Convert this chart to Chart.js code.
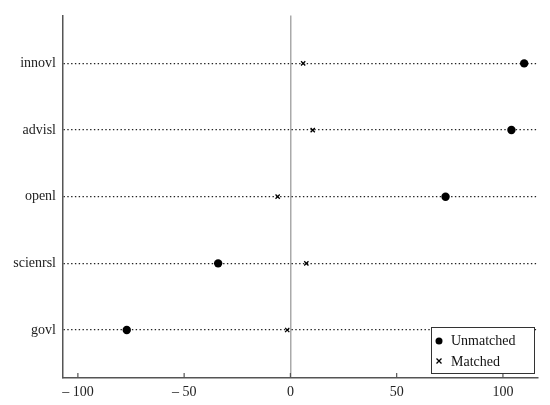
<!DOCTYPE html>
<html>
<head>
<meta charset="utf-8">
<script src="https://cdn.jsdelivr.net/npm/chart.js@4.4.0/dist/chart.umd.min.js"></script>
<style>
  html, body { margin: 0; padding: 0; background: #fff; }
  #wrap { width: 550px; height: 405px; position: relative; }
</style>
</head>
<body>
<div id="wrap"><canvas id="dotChart"></canvas></div>
<script>
// rows from bottom to top
const categories = ['govl', 'scienrsl', 'openl', 'advisl', 'innovl'];
const unmatched = [-77, -34, 73, 104, 110];
const matched = [-1.5, 7.5, -6, 10.5, 6];
const xTicks = [-100, -50, 0, 50, 100];

const serif = '"Liberation Serif", "DejaVu Serif", serif';

function fmtTick(v) {
    return v < 0 ? '\u2013 ' + Math.abs(v) : String(v);
}

// inward tick marks on x axis + legend box in the lower right
const extras = {
    id: 'extras',
    afterDraw(chart) {
        const ctx = chart.ctx;
        const x = chart.scales.x;
        const area = chart.chartArea;
        ctx.save();
        ctx.strokeStyle = '#555';
        ctx.lineWidth = 1.2;
        xTicks.forEach(function(t) {
            const px = x.getPixelForValue(t);
            ctx.beginPath();
            ctx.moveTo(px, area.bottom);
            ctx.lineTo(px, area.bottom - 5);
            ctx.stroke();
        });

        // legend
        const bx = 431, by = 327, bw = 103, bh = 46;
        ctx.fillStyle = '#fff';
        ctx.fillRect(bx, by, bw, bh);
        ctx.strokeStyle = '#333';
        ctx.lineWidth = 1;
        ctx.strokeRect(bx + 0.5, by + 0.5, bw, bh);

        ctx.fillStyle = '#000';
        ctx.beginPath();
        ctx.arc(bx + 8, by + 14, 3.5, 0, Math.PI * 2);
        ctx.fill();

        ctx.strokeStyle = '#000';
        ctx.lineWidth = 1.3;
        const cx = bx + 8, cy = by + 34;
        ctx.beginPath();
        ctx.moveTo(cx - 2.5, cy - 2.5); ctx.lineTo(cx + 2.5, cy + 2.5);
        ctx.moveTo(cx - 2.5, cy + 2.5); ctx.lineTo(cx + 2.5, cy - 2.5);
        ctx.stroke();

        ctx.font = '14px ' + serif;
        ctx.textBaseline = 'middle';
        ctx.fillStyle = '#111';
        ctx.fillText(chart.data.datasets[0].label, bx + 20, by + 14);
        ctx.fillText(chart.data.datasets[1].label, bx + 20, by + 35);
        ctx.restore();
    }
};

const ctx = document.getElementById('dotChart').getContext('2d');

new Chart(ctx, {
    type: 'scatter',
    data: {
        datasets: [{
            label: 'Unmatched',
            data: unmatched.map(function(v, i) { return { x: v, y: i + 1 }; }),
            pointStyle: 'circle',
            pointRadius: 4.2,
            backgroundColor: '#000',
            borderColor: '#000',
            borderWidth: 0
        }, {
            label: 'Matched',
            data: matched.map(function(v, i) { return { x: v, y: i + 1 }; }),
            pointStyle: 'crossRot',
            pointRadius: 3,
            borderColor: '#000',
            borderWidth: 1.3
        }]
    },
    options: {
        responsive: true,
        maintainAspectRatio: false,
        animation: false,
        layout: { padding: { top: 13, right: 12, left: 0, bottom: 0 } },
        plugins: {
            legend: { display: false },
            tooltip: { enabled: false }
        },
        scales: {
            x: {
                type: 'linear',
                min: -107,
                max: 116.5,
                afterBuildTicks: function(scale) {
                    scale.ticks = xTicks.map(function(v) { return { value: v }; });
                },
                afterFit: function(scale) { scale.height = 27; },
                grid: {
                    drawTicks: false,
                    lineWidth: 1.5,
                    color: function(c) {
                        return c.tick && c.tick.value === 0 ? '#aaa' : 'rgba(0,0,0,0)';
                    }
                },
                border: { display: true, color: '#555', width: 1.5 },
                ticks: {
                    padding: 6,
                    color: '#222',
                    font: { family: serif, size: 14 },
                    callback: function(v) { return fmtTick(v); }
                }
            },
            y: {
                type: 'linear',
                min: 0.28,
                max: 5.72,
                afterBuildTicks: function(scale) {
                    scale.ticks = categories.map(function(c, i) { return { value: i + 1 }; });
                },
                afterFit: function(scale) { scale.width = 63; },
                grid: {
                    drawTicks: false,
                    color: '#222',
                    lineWidth: 1.3
                },
                border: { display: true, color: '#555', width: 1.5, dash: [1.4, 2.4] },
                ticks: {
                    padding: 7,
                    color: '#222',
                    font: { family: serif, size: 14 },
                    callback: function(v) { return categories[v - 1]; }
                }
            }
        }
    },
    plugins: [extras]
});
</script>
</body>
</html>
